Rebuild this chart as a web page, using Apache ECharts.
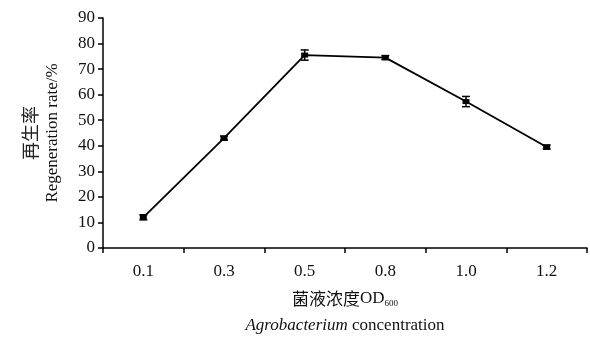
<!DOCTYPE html>
<html><head><meta charset="utf-8">
<script src="https://cdn.jsdelivr.net/npm/echarts@6/dist/echarts.min.js"></script>
<style>html,body{margin:0;padding:0;background:#fff}#c{width:590px;height:337px}</style>
</head><body><div id="c"></div>
<script>
var categories = ['0.1','0.3','0.5','0.8','1.0','1.2'];
var rates = [12.0, 43.0, 75.5, 74.5, 57.3, 39.5];
var errors = [1.0, 0.8, 2.0, 0.8, 2.0, 0.8];
var yTicks = [0,10,20,30,40,50,60,70,80,90];

var serif = '"Liberation Serif","DejaVu Serif",serif';
var cjk = '"Noto Sans CJK SC",sans-serif';
var chart = echarts.init(document.getElementById('c'));
var errData = rates.map(function(v,i){return [i, v-errors[i], v+errors[i]];});
chart.setOption({
  animation:false,
  grid:{left:103,right:3,top:18,bottom:89},
  xAxis:{type:'category',data:categories,boundaryGap:true,
    axisLine:{lineStyle:{color:'#000',width:1.5}},
    axisTick:{show:true,length:5,lineStyle:{color:'#000',width:1.5}},
    axisLabel:{color:'#111',fontFamily:serif,fontSize:17,margin:15}},
  yAxis:{type:'value',min:0,max:90,interval:10,
    splitLine:{show:false},
    axisLine:{show:true,lineStyle:{color:'#000',width:1.5}},
    axisTick:{show:true,length:5,lineStyle:{color:'#000',width:1.5}},
    axisLabel:{color:'#111',fontFamily:serif,fontSize:17,margin:8,
      formatter:function(v){return yTicks.indexOf(v)>=0?String(v):'';}}},
  series:[
    {type:'line',data:rates,symbol:'rect',symbolSize:[7,5],
     lineStyle:{color:'#000',width:1.8},itemStyle:{color:'#000'},z:3},
    {type:'custom',data:errData,z:4,
     renderItem:function(params,api){
       var x=api.value(0);
       var lo=api.coord([x,api.value(1)]);
       var hi=api.coord([x,api.value(2)]);
       var w=4;
       var st={stroke:'#000',lineWidth:1.5};
       return {type:'group',children:[
         {type:'line',shape:{x1:lo[0],y1:lo[1],x2:hi[0],y2:hi[1]},style:st},
         {type:'line',shape:{x1:lo[0]-w,y1:lo[1],x2:lo[0]+w,y2:lo[1]},style:st},
         {type:'line',shape:{x1:hi[0]-w,y1:hi[1],x2:hi[0]+w,y2:hi[1]},style:st}
       ]};
     }}
  ],
  graphic:[
    {type:'text',rotation:Math.PI/2,position:[30,133],style:{text:'再生率',font:'18px '+cjk,fill:'#222',textAlign:'center',textVerticalAlign:'middle'}},
    {type:'text',rotation:Math.PI/2,position:[53,133],style:{text:'Regeneration rate/%',font:'17px '+serif,fill:'#111',textAlign:'center',textVerticalAlign:'middle'}},
    {type:'text',position:[345,299],style:{text:'菌液浓度{o|OD}{s|600}',rich:{o:{fontSize:17,fontFamily:serif},s:{fontSize:9,fontFamily:serif,padding:[10,0,0,0]}},font:'17px '+cjk,fill:'#111',textAlign:'center',textVerticalAlign:'middle'}},
    {type:'text',position:[345,326],style:{text:'{i|Agrobacterium} concentration',rich:{i:{fontStyle:'italic',fontFamily:serif,fontSize:17}},font:'17px '+serif,fill:'#111',textAlign:'center',textVerticalAlign:'middle'}}
  ]
});
</script></body></html>
